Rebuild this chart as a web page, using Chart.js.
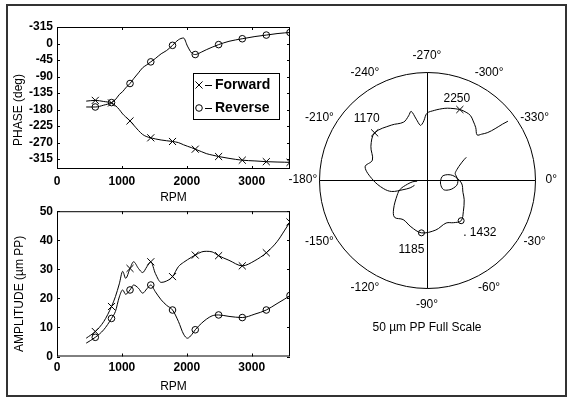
<!DOCTYPE html>
<html>
<head>
<meta charset="utf-8">
<script src="https://cdn.jsdelivr.net/npm/chart.js@4.4.0/dist/chart.umd.min.js"></script>
<style>
  body { margin: 0; background: #fff; }
  #wrap { position: relative; width: 570px; height: 399px; }
  #frame { position: absolute; left: 6px; top: 4px; width: 557px; height: 389px; border: 2px solid #333; }
  canvas { position: absolute; }
</style>
</head>
<body>
<div id="wrap">
  <div id="frame"></div>
  <canvas id="phase" style="left:0;top:0" width="300" height="205"></canvas>
  <canvas id="amp" style="left:0;top:200px" width="300" height="199"></canvas>
  <canvas id="polar" style="left:280px;top:0" width="290" height="399"></canvas>
</div>
<script>
// run-up data
const rpm = [450, 590, 720, 840, 900, 960, 1012, 1058, 1125, 1180, 1255, 1320, 1385, 1445, 1515, 1605, 1690,
  1780, 1870, 1950, 2010, 2075, 2130, 2230, 2300, 2390, 2490, 2650, 2855, 3050, 3225, 3390, 3510, 3590];
const fwdPhase = [-157, -155, -158, -162, -169, -180, -192, -200, -211, -222, -237, -248, -254, -257, -260, -263, -265,
  -267, -270, -276, -280, -284, -288, -295, -300, -304, -308, -313, -318, -320, -322, -323, -323.5, -324];
const fwdAmp = [6.3, 8.6, 12, 17.2, 20.6, 25, 29.3, 26.9, 30.3, 32.6, 30.3, 28.9, 30.9, 32.6, 28.6, 25.5, 26,
  27.5, 30.9, 32.4, 33.3, 34.2, 34.9, 36, 36.2, 36, 34.7, 33.1, 31.2, 33, 35.7, 39.5, 43.5, 46.3];
const revPhase = [-173, -173, -168, -161, -153, -139, -131, -121, -109, -96, -80, -66, -58, -50, -41, -28, -19,
  -5, 10, 15, -7, -26, -30, -23, -17, -10, -3, 6, 13, 19, 23, 27, 29, 30];
const revAmp = [4.6, 6.6, 9.2, 13.1, 15.5, 20.5, 22.9, 21.4, 22.9, 24.6, 23.5, 21.8, 23.3, 24.6, 22.3, 19.5, 17.6,
  16, 12.1, 7.7, 6.3, 7.5, 9.2, 11.5, 12.8, 14, 14.3, 13.8, 13.4, 14.6, 16, 18.2, 19.8, 21];
const markerRpm = [590, 840, 1125, 1445, 1780, 2130, 2490, 2855, 3225, 3590];

const rpmTicks = [0, 1000, 2000, 3000];
const phaseTicks = [-315, -270, -225, -180, -135, -90, -45, 0, 45];
const ampTicks = [0, 10, 20, 30, 40, 50];

const fwdPolarRpm = [1180, 2230];
const fwdPolarText = ['1170', '2250'];
const revPolarRpm = [1180, 1445];
const revPolarText = ['1185', '. 1432'];
const angleLabels = [0, -30, -60, -90, -120, -150, -180, -210, -240, -270, -300, -330];

const FONT = '"Liberation Sans", Arial, Helvetica, sans-serif';
Chart.defaults.font.family = FONT;
Chart.defaults.color = '#000';

function lineSet(label, ys, style, radius) {
  return {
    label,
    data: rpm.map((r, i) => ({ x: r, y: ys[i] })),
    showLine: true,
    borderColor: '#000',
    borderWidth: 1,
    cubicInterpolationMode: 'monotone',
    pointStyle: style,
    pointRadius: c => markerRpm.includes(rpm[c.dataIndex]) ? radius : 0,
    pointBorderColor: '#000',
    pointBackgroundColor: 'rgba(0,0,0,0)',
    pointBorderWidth: 1
  };
}

const fixTicks = list => s => { s.ticks = list.map(v => ({ value: v })); };

// box, inward ticks and y title
const deco = {
  id: 'deco',
  afterDraw(chart, args, o) {
    const { ctx, chartArea: a, scales: { x, y } } = chart;
    ctx.save();
    ctx.strokeStyle = '#000';
    ctx.lineWidth = 1;
    ctx.strokeRect(a.left + 0.5, a.top + 0.5, a.width - 1, a.height - 1);
    ctx.beginPath();
    x.ticks.forEach(t => {
      const p = Math.round(x.getPixelForValue(t.value)) + 0.5;
      ctx.moveTo(p, a.bottom); ctx.lineTo(p, a.bottom - 3);
      ctx.moveTo(p, a.top); ctx.lineTo(p, a.top + 3);
    });
    y.ticks.forEach(t => {
      const p = Math.round(y.getPixelForValue(t.value)) + 0.5;
      ctx.moveTo(a.left, p); ctx.lineTo(a.left + 3, p);
      ctx.moveTo(a.right, p); ctx.lineTo(a.right - 3, p);
    });
    ctx.stroke();
    ctx.translate(o.titleX, (a.top + a.bottom) / 2 + o.shift);
    ctx.rotate(-Math.PI / 2);
    ctx.font = o.font;
    ctx.fillStyle = '#000';
    ctx.textAlign = 'center';
    ctx.textBaseline = 'middle';
    ctx.fillText(o.title, 0, 0);
    ctx.restore();
  }
};

const legendBox = {
  id: 'legendBox',
  afterDraw(chart) {
    const { ctx } = chart;
    ctx.save();
    ctx.fillStyle = '#fff';
    ctx.fillRect(193, 73, 86, 46);
    ctx.strokeStyle = '#000';
    ctx.lineWidth = 1;
    ctx.strokeRect(193.5, 73.5, 86, 46);
    chart.data.datasets.forEach((ds, i) => {
      const yy = 85 + i * 23;
      ctx.fillStyle = '#fff';
      Chart.helpers.drawPoint(ctx, { pointStyle: ds.pointStyle, radius: ds.pointStyle === 'circle' ? 3.3 : 5, borderWidth: 1, rotation: 0 }, 199, yy);
      ctx.beginPath();
      ctx.moveTo(205, yy + 0.5); ctx.lineTo(212, yy + 0.5);
      ctx.stroke();
      ctx.fillStyle = '#000';
      ctx.font = 'bold 14px ' + FONT;
      ctx.textBaseline = 'middle';
      ctx.fillText(ds.label, 215, yy);
    });
    ctx.restore();
  }
};

const common = {
  responsive: false,
  animation: false,
  events: [],
  plugins: { legend: { display: false }, tooltip: { enabled: false } }
};

new Chart(document.getElementById('phase'), {
  type: 'scatter',
  data: { datasets: [lineSet('Forward', fwdPhase, 'crossRot', 5), lineSet('Reverse', revPhase, 'circle', 3.3)] },
  options: {
    ...common,
    layout: { padding: { left: 11, right: 10, top: 27, bottom: 0 } },
    plugins: { ...common.plugins, deco: { title: 'PHASE (deg)', titleX: 19, shift: 12, font: '12px ' + FONT } },
    scales: {
      x: {
        type: 'linear', min: 0, max: 3590,
        grid: { display: false, drawTicks: false }, border: { display: false },
        afterBuildTicks: fixTicks(rpmTicks),
        ticks: { padding: 5.5, maxRotation: 0, autoSkip: false, font: { size: 12, weight: 'bold' }, callback: v => String(v) },
        title: { display: true, text: 'RPM', font: { size: 12 }, padding: 0 },
        afterFit: s => { s.height = 36; }
      },
      y: {
        min: -342, max: 45,
        grid: { display: false, drawTicks: false }, border: { display: false },
        afterBuildTicks: fixTicks(phaseTicks),
        ticks: { padding: 4, autoSkip: false, font: { size: 12, weight: 'bold' },
          callback: v => String(v > 0 ? v - 360 : v) },
        afterFit: s => { s.width = 46; }
      }
    }
  },
  plugins: [deco, legendBox]
});

new Chart(document.getElementById('amp'), {
  type: 'scatter',
  data: { datasets: [lineSet('Forward', fwdAmp, 'crossRot', 5), lineSet('Reverse', revAmp, 'circle', 3.3)] },
  options: {
    ...common,
    layout: { padding: { left: 11, right: 10, top: 11, bottom: 5.3 } },
    plugins: { ...common.plugins, deco: { title: 'AMPLITUDE (\u00b5m PP)', titleX: 20, shift: 10, font: '12px ' + FONT } },
    scales: {
      x: {
        type: 'linear', min: 0, max: 3590,
        grid: { display: false, drawTicks: false }, border: { display: false },
        afterBuildTicks: fixTicks(rpmTicks),
        ticks: { padding: 3.5, maxRotation: 0, autoSkip: false, font: { size: 12, weight: 'bold' }, callback: v => String(v) },
        title: { display: true, text: 'RPM', font: { size: 12 }, padding: 0 },
        afterFit: s => { s.height = 37.2; }
      },
      y: {
        min: 0, max: 50,
        grid: { display: false, drawTicks: false }, border: { display: false },
        afterBuildTicks: fixTicks(ampTicks),
        ticks: { padding: 4, autoSkip: false, font: { size: 12, weight: 'bold' }, callback: v => String(v) },
        afterFit: s => { s.width = 46; }
      }
    }
  },
  plugins: [deco]
});

// polar view: amplitude as radius, phase as angle
function polarPts(amp, ph) {
  return amp.map((a, i) => ({ x: a * Math.cos(ph[i] * Math.PI / 180), y: a * Math.sin(ph[i] * Math.PI / 180) }));
}

const polarDeco = {
  id: 'polarDeco',
  beforeDatasetsDraw(chart) {
    const { ctx, scales: { x, y } } = chart;
    const cx = Math.round(x.getPixelForValue(0)) + 0.5, cy = Math.round(y.getPixelForValue(0)) + 0.5;
    const R = x.getPixelForValue(50) - x.getPixelForValue(0);
    ctx.save();
    ctx.strokeStyle = '#000';
    ctx.lineWidth = 1;
    ctx.beginPath(); ctx.arc(cx, cy, R, 0, 2 * Math.PI); ctx.stroke();
    ctx.beginPath();
    ctx.moveTo(cx - R, cy); ctx.lineTo(cx + R, cy);
    ctx.moveTo(cx, cy - R); ctx.lineTo(cx, cy + R);
    ctx.stroke();
    ctx.restore();
  },
  afterDraw(chart) {
    const { ctx, scales: { x, y } } = chart;
    const cx = x.getPixelForValue(0), cy = y.getPixelForValue(0);
    const R = x.getPixelForValue(50) - cx;
    ctx.save();
    ctx.fillStyle = '#000';
    ctx.font = '12px ' + FONT;
    ctx.textAlign = 'center';
    ctx.textBaseline = 'middle';
    angleLabels.forEach(a => {
      const r = a * Math.PI / 180;
      ctx.fillText(a + '\u00b0', cx + R * 1.15 * Math.cos(r), cy - R * 1.15 * Math.sin(r));
    });
    ctx.fillText('50 \u00b5m PP Full Scale', cx, cy + 148);
    const put = (di, list, texts, offs) => {
      const meta = chart.getDatasetMeta(di);
      list.forEach((r, k) => {
        const el = meta.data[rpm.indexOf(r)];
        ctx.textAlign = offs[k][2] || 'center';
        ctx.fillText(texts[k], el.x + offs[k][0], el.y + offs[k][1]);
      });
    };
    put(0, fwdPolarRpm, fwdPolarText, [[-8, -14], [-3, -11]]);
    put(1, revPolarRpm, revPolarText, [[-10, 17], [2, 12, 'left']]);
    ctx.restore();
  }
};

const polarSet = (label, amp, ph, style, radius, marks) => ({
  label,
  data: polarPts(amp, ph),
  showLine: true,
  borderColor: '#000',
  borderWidth: 1,
  tension: 0.35,
  pointStyle: style,
  pointRadius: c => marks.includes(rpm[c.dataIndex]) ? radius : 0,
  pointBorderColor: '#000',
  pointBackgroundColor: 'rgba(0,0,0,0)',
  pointBorderWidth: 1
});

new Chart(document.getElementById('polar'), {
  type: 'scatter',
  data: { datasets: [
    polarSet('Forward', fwdAmp, fwdPhase, 'crossRot', 5, fwdPolarRpm),
    polarSet('Reverse', revAmp, revPhase, 'circle', 3, revPolarRpm)
  ] },
  options: {
    ...common,
    layout: { padding: { left: 39, right: 35, top: 72, bottom: 111 } },
    scales: {
      x: { display: false, min: -50, max: 50 },
      y: { display: false, min: -50, max: 50 }
    }
  },
  plugins: [polarDeco]
});
</script>
</body>
</html>
